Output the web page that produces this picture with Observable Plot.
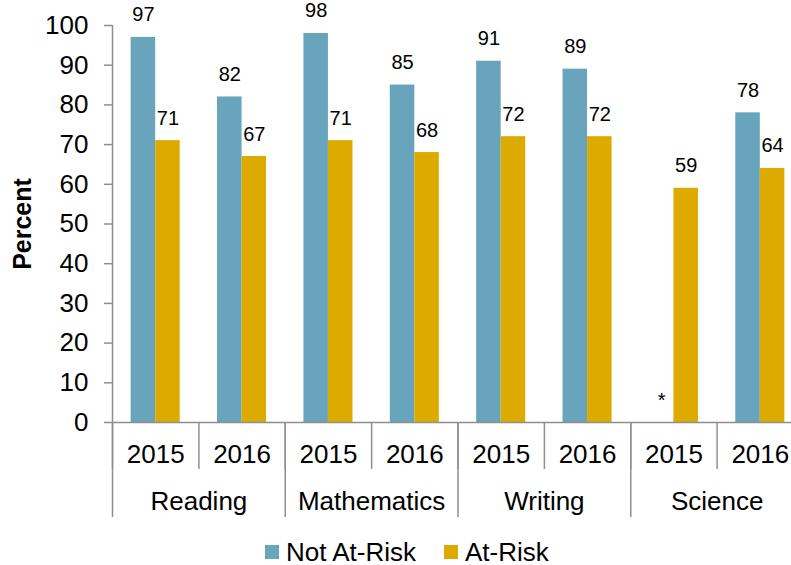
<!DOCTYPE html>
<html>
<head>
<meta charset="utf-8">
<script src="https://cdn.jsdelivr.net/npm/d3@7"></script>
<script src="https://cdn.jsdelivr.net/npm/@observablehq/plot@0.6"></script>
<style>
  html, body { margin: 0; padding: 0; background: #fff; overflow: hidden; }
  body { width: 791px; height: 565px; font-family: "Liberation Sans", Arial, sans-serif; }
  #legend { display: flex; align-items: center; padding-left: 265px; margin-top: 7px; height: 30px; font-size: 26px; color: #000; }
  #legend .sw { width: 14px; height: 14px; display: inline-block; margin-right: 7px; }
  #legend .item { display: flex; align-items: center; margin-right: 28px; }
</style>
</head>
<body>
<div id="chart"></div>
<div id="legend"></div>
<script>
// ---- data ----
const subjects = ["Reading", "Mathematics", "Writing", "Science"];
const years = ["2015", "2016"];
const seriesNames = ["Not At-Risk", "At-Risk"];
const seriesColors = ["#68a4bb", "#ddab00"];
// per slot: Reading 2015, Reading 2016, Mathematics 2015, ..., Science 2016
const notAtRisk = [97, 82, 98, 85, 91, 89, null, 78];
const atRisk = [71, 67, 71, 68, 72, 72, 59, 64];
const suppressedLabel = "*";
const yTicks = [0, 10, 20, 30, 40, 50, 60, 70, 80, 90, 100];

// ---- table ----
const rows = [];
const nSlots = subjects.length * years.length;
for (let i = 0; i < nSlots; i++) {
  [notAtRisk, atRisk].forEach((vals, s) => {
    const v = vals[i];
    rows.push({
      slot: i,
      subject: subjects[Math.floor(i / years.length)],
      year: years[i % years.length],
      series: seriesNames[s],
      s,
      value: v == null ? 0 : v,
      label: v == null ? suppressedLabel : String(v)
    });
  });
}

const barW = 0.284; // fraction of a slot taken by one bar
const gray = "#8e8e8e";
const font = "Liberation Sans, Arial, sans-serif";
const boundaries = d3.range(nSlots + 1);
const groupBoundaries = boundaries.filter(d => d % years.length === 0);
const slotCenters = d3.range(nSlots).map(i => i + 0.5);
const groupCenters = subjects.map((_, g) => g * years.length + years.length / 2);

const chart = Plot.plot({
  width: 791,
  height: 530,
  marginTop: 25,
  marginBottom: 108,
  marginLeft: 112,
  marginRight: 0,
  style: { fontFamily: font, background: "white", overflow: "hidden" },
  x: { domain: [0, nSlots], range: [112, 803], axis: null },
  y: { domain: [0, 100], axis: null },
  color: { domain: seriesNames, range: seriesColors },
  marks: [
    Plot.rectY(rows, {
      x1: d => d.slot + 0.5 + (d.s === 0 ? -barW : 0),
      x2: d => d.slot + 0.5 + (d.s === 0 ? 0 : barW),
      y1: 0,
      y2: "value",
      fill: "series"
    }),
    Plot.text(rows, {
      x: d => d.slot + 0.5 + (d.s === 0 ? -barW / 2 : barW / 2),
      y: "value",
      text: "label",
      dy: -16,
      lineAnchor: "bottom",
      fontSize: 20,
      fill: "#000"
    }),
    // y axis
    Plot.axisY({
      ticks: yTicks,
      tickSize: 8,
      tickPadding: 16,
      fontSize: 26,
      stroke: gray,
      strokeWidth: 1.5,
      label: null,
      color: "#000"
    }),
    Plot.ruleX([0], { y1: 0, y2: 100, stroke: gray, strokeWidth: 1.5 }),
    Plot.ruleY([0], { stroke: gray, strokeWidth: 1.5 }),
    // category separators
    Plot.axisX({
      ticks: boundaries,
      tickSize: 47,
      tickFormat: () => "",
      stroke: gray,
      strokeWidth: 1.5,
      label: null
    }),
    Plot.axisX({
      ticks: groupBoundaries,
      tickSize: 95,
      tickFormat: () => "",
      stroke: gray,
      strokeWidth: 1.5,
      label: null
    }),
    // year labels
    Plot.axisX({
      ticks: slotCenters,
      tickSize: 0,
      tickPadding: 22,
      tickFormat: d => years[Math.floor(d) % years.length],
      fontSize: 26,
      label: null,
      fill: "#000"
    }),
    // subject labels
    Plot.axisX({
      ticks: groupCenters,
      tickSize: 0,
      tickPadding: 69,
      tickFormat: d => subjects[Math.floor((d - 0.5) / years.length)],
      fontSize: 26,
      label: null,
      fill: "#000"
    }),
    // y axis title
    Plot.text(["Percent"], {
      frameAnchor: "left",
      textAnchor: "middle",
      lineAnchor: "middle",
      dx: -90,
      dy: 0,
      rotate: -90,
      fontSize: 25,
      fontWeight: "bold",
      fill: "#000"
    })
  ]
});
document.getElementById("chart").appendChild(chart);

// legend
const legend = document.getElementById("legend");
seriesNames.forEach((name, i) => {
  const item = document.createElement("span");
  item.className = "item";
  const sw = document.createElement("span");
  sw.className = "sw";
  sw.style.background = seriesColors[i];
  item.appendChild(sw);
  item.appendChild(document.createTextNode(name));
  legend.appendChild(item);
});
</script>
</body>
</html>
